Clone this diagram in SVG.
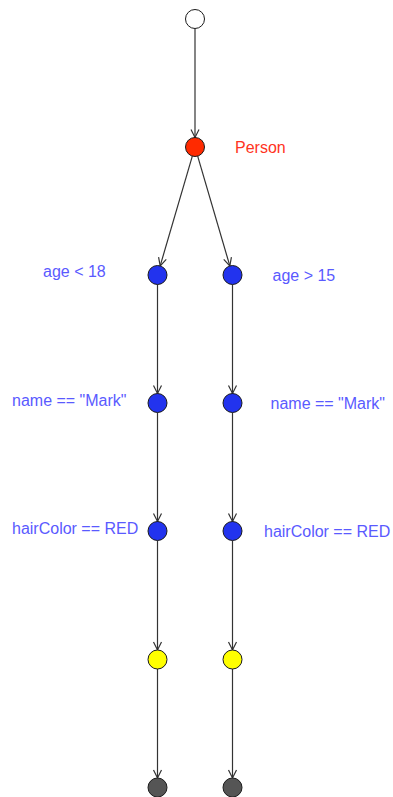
<svg xmlns="http://www.w3.org/2000/svg" width="393" height="797" viewBox="0 0 393 797">
  <style>
    .node { stroke: #1a1a1a; stroke-width: 1; }
    .start { fill: #ffffff; }
    .root { fill: #ff2a00; }
    .cond { fill: #2233ee; }
    .term { fill: #ffff00; }
    .end { fill: #555555; }
    .edge { stroke: #333333; stroke-width: 1.2; fill: none; marker-end: url(#arrow); }
    .lbl { font-family: "Liberation Sans", Arial, sans-serif; font-size: 16px; fill: #5a5aff; }
    .lbl-root { font-family: "Liberation Sans", Arial, sans-serif; font-size: 16px; fill: #ff3322; }
  </style>
  <defs>
    <marker id="arrow" markerWidth="12" markerHeight="12" refX="0" refY="0" viewBox="-10 -6 12 12" orient="auto" markerUnits="userSpaceOnUse">
      <path d="M-8,-4 L0,0 L-8,4" fill="none" stroke="#333333" stroke-width="1.2"/>
    </marker>
  </defs>
  <rect width="393" height="797" fill="#ffffff"/>

  <g id="connectors">
    <line class="edge" x1="195" y1="28.5" x2="195" y2="137.5"/>
    <line class="edge" x1="192.33" y1="156.12" x2="160.17" y2="265.88"/>
    <line class="edge" x1="197.67" y1="156.12" x2="229.83" y2="265.88"/>
    <line class="edge" x1="157.5" y1="284.5" x2="157.5" y2="393.5"/>
    <line class="edge" x1="232.5" y1="284.5" x2="232.5" y2="393.5"/>
    <line class="edge" x1="157.5" y1="412.5" x2="157.5" y2="521.5"/>
    <line class="edge" x1="232.5" y1="412.5" x2="232.5" y2="521.5"/>
    <line class="edge" x1="157.5" y1="540.5" x2="157.5" y2="650"/>
    <line class="edge" x1="232.5" y1="540.5" x2="232.5" y2="650"/>
    <line class="edge" x1="157.5" y1="669" x2="157.5" y2="778"/>
    <line class="edge" x1="232.5" y1="669" x2="232.5" y2="778"/>
  </g>

  <g id="start"><circle class="node start" cx="195" cy="19" r="9.5"/></g>
  <g id="person">
    <circle class="node root" cx="195" cy="147" r="9.5"/>
    <text class="lbl-root" x="235" y="153">Person</text>
  </g>
  <g id="age-lt-18">
    <circle class="node cond" cx="157.5" cy="275" r="9.5"/>
    <text class="lbl" x="43" y="277">age &lt; 18</text>
  </g>
  <g id="age-gt-15">
    <circle class="node cond" cx="232.5" cy="275" r="9.5"/>
    <text class="lbl" x="272.5" y="281">age &gt; 15</text>
  </g>
  <g id="name-left">
    <circle class="node cond" cx="157.5" cy="403" r="9.5"/>
    <text class="lbl" x="12" y="406">name == "Mark"</text>
  </g>
  <g id="name-right">
    <circle class="node cond" cx="232.5" cy="403" r="9.5"/>
    <text class="lbl" x="270.5" y="409">name == "Mark"</text>
  </g>
  <g id="hair-left">
    <circle class="node cond" cx="157.5" cy="531" r="9.5"/>
    <text class="lbl" x="12" y="534">hairColor == RED</text>
  </g>
  <g id="hair-right">
    <circle class="node cond" cx="232.5" cy="531" r="9.5"/>
    <text class="lbl" x="264" y="537">hairColor == RED</text>
  </g>
  <g id="term-left"><circle class="node term" cx="157.5" cy="659.5" r="9.5"/></g>
  <g id="term-right"><circle class="node term" cx="232.5" cy="659.5" r="9.5"/></g>
  <g id="end-left"><circle class="node end" cx="157.5" cy="787.5" r="9.5"/></g>
  <g id="end-right"><circle class="node end" cx="232.5" cy="787.5" r="9.5"/></g>
</svg>
